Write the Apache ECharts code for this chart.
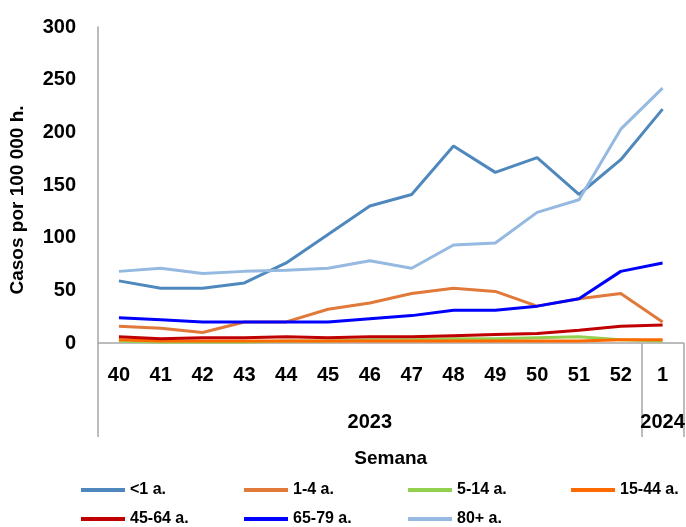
<!DOCTYPE html>
<html>
<head>
<meta charset="utf-8">
<script src="https://cdn.jsdelivr.net/npm/echarts@6/dist/echarts.min.js"></script>
<style>
  html, body { margin: 0; padding: 0; background: #fff; }
  #chart { width: 686px; height: 527px; }
</style>
</head>
<body>
<div id="chart"></div>
<script>
// semanas epidemiologicas
var weeks = ['40', '41', '42', '43', '44', '45', '46', '47', '48', '49', '50', '51', '52', '1'];
var years = ['', '', '', '', '', '', '2023', '', '', '', '', '', '', '2024'];
var yearStarts = [0, 13];

var names = ['<1 a.', '1-4 a.', '5-14 a.', '15-44 a.', '45-64 a.', '65-79 a.', '80+ a.'];
var colors = ['#4F88BD', '#E0793A', '#92D050', '#FF6A00', '#C00000', '#0000FF', '#95B9E1'];

var under1 = [59, 52, 52, 57, 76, 103, 130, 141, 187, 162, 176, 141, 174, 222];
var age1to4 = [16, 14, 10, 20, 20, 32, 38, 47, 52, 49, 35, 42, 47, 20];
var age5to14 = [2, 1, 1, 1, 2, 2, 3, 3, 4, 4, 5, 6, 3, 2];
var age15to44 = [3, 2, 2, 2, 2, 2, 2, 2, 2, 2, 2, 2, 3, 3];
var age45to64 = [6, 4, 5, 5, 6, 5, 6, 6, 7, 8, 9, 12, 16, 17];
var age65to79 = [24, 22, 20, 20, 20, 20, 23, 26, 31, 31, 35, 42, 68, 76];
var age80plus = [68, 71, 66, 68, 69, 71, 78, 71, 93, 95, 124, 136, 203, 242];

var seriesData = [under1, age1to4, age5to14, age15to44, age45to64, age65to79, age80plus];

var font = 'Liberation Sans, Arial, sans-serif';

var chart = echarts.init(document.getElementById('chart'));

// legend in a 4-column grid
var legendCols = [81, 244, 408, 571];
var legendRows = [482, 511];
var legends = names.map(function (n, i) {
    return {
        data: [n],
        left: legendCols[i % 4],
        top: legendRows[Math.floor(i / 4)],
        padding: 0,
        icon: 'rect', itemWidth: 44, itemHeight: 4, itemGap: 4,
        textStyle: { fontFamily: font, fontWeight: 'bold', fontSize: 16, color: '#000' }
    };
});

chart.setOption({
    animation: false,
    color: colors,
    grid: { left: 98, right: 2.5, top: 27, bottom: 184, outerBoundsMode: 'none' },
    legend: legends,
    xAxis: [{
        type: 'category',
        data: weeks,
        boundaryGap: true,
        axisLine: { lineStyle: { color: '#a6a6a6', width: 1.5 } },
        axisTick: { show: false },
        axisLabel: {
            interval: 0, margin: 22, color: '#000',
            fontFamily: font, fontWeight: 'bold', fontSize: 20
        }
    }, {
        type: 'category',
        data: years,
        position: 'bottom',
        boundaryGap: true,
        axisLine: { show: false },
        axisTick: {
            show: true, length: 94,
            interval: function (idx) { return yearStarts.indexOf(idx) >= 0; },
            lineStyle: { color: '#a6a6a6', width: 1.5 }
        },
        axisLabel: {
            interval: 0, margin: 69, color: '#000',
            fontFamily: font, fontWeight: 'bold', fontSize: 20
        },
        name: 'Semana',
        nameLocation: 'middle',
        nameGap: 106,
        nameTextStyle: { fontFamily: font, fontWeight: 'bold', fontSize: 19, color: '#000' }
    }],
    yAxis: {
        type: 'value',
        min: 0, max: 300, interval: 50,
        name: 'Casos por 100 000 h.',
        nameLocation: 'middle',
        nameGap: 71,
        nameTextStyle: {
            fontFamily: font, fontWeight: 'bold', fontSize: 19, color: '#000',
            padding: [0, 30, 0, 0]
        },
        axisLine: { show: true, lineStyle: { color: '#a6a6a6', width: 1.5 } },
        axisTick: { show: false },
        splitLine: { show: false },
        axisLabel: {
            margin: 22, color: '#000',
            fontFamily: font, fontWeight: 'bold', fontSize: 20
        }
    },
    series: seriesData.map(function (d, i) {
        return {
            name: names[i],
            type: 'line',
            data: d,
            symbol: 'none',
            lineStyle: { width: 3 }
        };
    })
});
</script>
</body>
</html>
